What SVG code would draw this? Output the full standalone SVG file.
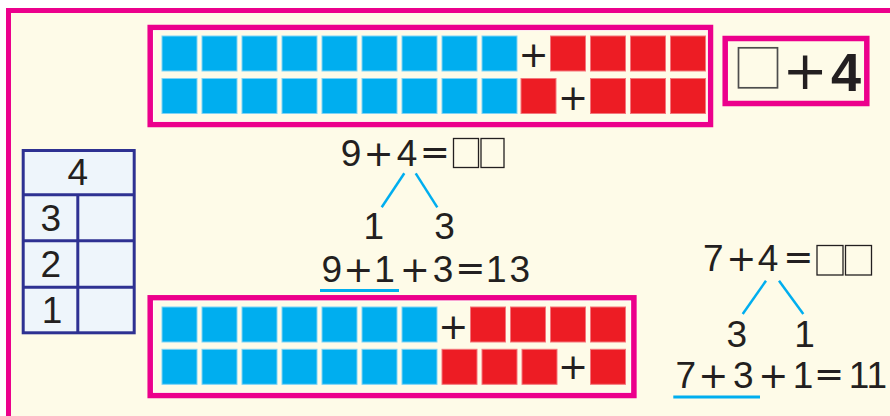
<svg xmlns="http://www.w3.org/2000/svg" width="890" height="416" viewBox="0 0 890 416">
<style>
.bg{fill:#FEFBE8}
.pink{fill:none;stroke:#EC008C;stroke-width:5.5}
.inner{fill:none;stroke:#FFFFFF;stroke-width:1;opacity:.7}
.b{fill:#00AEEF;stroke:#7FD3F5;stroke-width:1}
.r{fill:#ED1C24;stroke:#F3777C;stroke-width:1}
.d{font-family:"Liberation Sans",Arial,sans-serif;font-size:37px;fill:#231F20;text-anchor:middle}
.o{font-family:"DejaVu Sans",sans-serif;font-size:36px}
.tp{font-family:"DejaVu Sans",sans-serif;font-size:36px;fill:#231F20;text-anchor:middle}
.ans{fill:none;stroke:#231F20;stroke-width:1.3}
.tbl{fill:#EEF5FB;stroke:#2E3192;stroke-width:3}
.tl{stroke:#2E3192;stroke-width:3}
.cn{stroke:#00AEEF;stroke-width:2.5;fill:none}
.ul{stroke:#00AEEF;stroke-width:3}
</style>
<rect width="890" height="416" fill="#FFFFFF"/>
<g id="frame">
<rect x="8.5" y="10.5" width="884" height="420" class="bg" stroke="#EC008C" stroke-width="5"/>
</g>

<g id="box-top">
<rect x="150.2" y="27.5" width="560.3" height="97" class="pink"/>
<rect x="153.5" y="30.5" width="554" height="91" class="inner"/>
<rect x="162" y="36" width="35" height="35" class="b"/>
<rect x="202" y="36" width="35" height="35" class="b"/>
<rect x="242" y="36" width="35" height="35" class="b"/>
<rect x="282" y="36" width="35" height="35" class="b"/>
<rect x="322" y="36" width="35" height="35" class="b"/>
<rect x="362" y="36" width="35" height="35" class="b"/>
<rect x="402" y="36" width="35" height="35" class="b"/>
<rect x="442" y="36" width="35" height="35" class="b"/>
<rect x="482" y="36" width="35" height="35" class="b"/>
<text x="533.5" y="67" class="tp">+</text>
<rect x="550.5" y="36" width="35" height="35" class="r"/>
<rect x="590.5" y="36" width="35" height="35" class="r"/>
<rect x="630.5" y="36" width="35" height="35" class="r"/>
<rect x="670.5" y="36" width="35" height="35" class="r"/>
<rect x="162" y="78.5" width="35" height="35" class="b"/>
<rect x="202" y="78.5" width="35" height="35" class="b"/>
<rect x="242" y="78.5" width="35" height="35" class="b"/>
<rect x="282" y="78.5" width="35" height="35" class="b"/>
<rect x="322" y="78.5" width="35" height="35" class="b"/>
<rect x="362" y="78.5" width="35" height="35" class="b"/>
<rect x="402" y="78.5" width="35" height="35" class="b"/>
<rect x="442" y="78.5" width="35" height="35" class="b"/>
<rect x="482" y="78.5" width="35" height="35" class="b"/>
<rect x="521" y="78.5" width="35" height="35" class="r"/>
<text x="573" y="110" class="tp">+</text>
<rect x="590.5" y="78.5" width="35" height="35" class="r"/>
<rect x="630.5" y="78.5" width="35" height="35" class="r"/>
<rect x="670.5" y="78.5" width="35" height="35" class="r"/>
</g>

<g id="box-answer">
<rect x="725.2" y="38.5" width="141.6" height="65" class="pink"/>
<rect x="738.5" y="47.8" width="39" height="40" fill="none" stroke="#4D4D4D" stroke-width="1.7"/>
<text x="805" y="89" font-family="DejaVu Sans, sans-serif" font-size="54" fill="#231F20" text-anchor="middle">+</text>
<text x="846" y="91" font-family="Liberation Sans, Arial, sans-serif" font-weight="bold" font-size="54" fill="#231F20" text-anchor="middle">4</text>
</g>

<g id="table">
<rect x="23.2" y="150.5" width="111" height="182.3" class="tbl"/>
<line x1="23.2" y1="194.8" x2="134.2" y2="194.8" class="tl"/>
<line x1="23.2" y1="240.8" x2="134.2" y2="240.8" class="tl"/>
<line x1="23.2" y1="287.2" x2="134.2" y2="287.2" class="tl"/>
<line x1="77.8" y1="194.8" x2="77.8" y2="332.8" class="tl"/>
<text x="77.8" y="185" class="d" font-size="31">4</text>
<text x="50.8" y="230.7" class="d">3</text>
<text x="50.8" y="276.7" class="d">2</text>
<text x="52" y="322.7" class="d">1</text>
</g>

<g id="eq-left">
<text y="166" class="d"><tspan x="351">9</tspan><tspan x="378.7" class="o">+</tspan><tspan x="407">4</tspan><tspan x="434.8" y="164" class="o">=</tspan></text>
<rect x="453.5" y="138.5" width="25" height="29" class="ans"/>
<rect x="481" y="138.5" width="23" height="29" class="ans"/>
<text y="239.3" class="d"><tspan x="373.8">1</tspan><tspan x="444.5">3</tspan></text>
<text y="281.7" class="d"><tspan x="331.7">9</tspan><tspan x="358.3" class="o">+</tspan><tspan x="384.6">1</tspan><tspan x="414.8" class="o">+</tspan><tspan x="443">3</tspan><tspan x="470.3" y="279.7" class="o">=</tspan><tspan x="496.3" y="281.7">1</tspan><tspan x="519.7">3</tspan></text>
</g>

<g id="eq-right">
<text y="271" class="d"><tspan x="713.3">7</tspan><tspan x="741.3" class="o">+</tspan><tspan x="768">4</tspan><tspan x="798.3" y="269" class="o">=</tspan></text>
<rect x="817" y="245.5" width="26" height="29.5" class="ans"/>
<rect x="845.5" y="245.5" width="26" height="29.5" class="ans"/>
<text y="346.7" class="d"><tspan x="736.7">3</tspan><tspan x="804.6">1</tspan></text>
<text y="388.3" class="d"><tspan x="685.8">7</tspan><tspan x="713.3" class="o">+</tspan><tspan x="743.3">3</tspan><tspan x="773.3" class="o">+</tspan><tspan x="803">1</tspan><tspan x="829.2" y="386.3" class="o">=</tspan><tspan x="868" y="388.3">11</tspan></text>
</g>

<g id="box-bottom">
<rect x="150.2" y="297.8" width="483.7" height="97.7" class="pink"/>
<rect x="153.5" y="301" width="477" height="91.3" class="inner"/>
<rect x="162" y="307" width="35" height="35" class="b"/>
<rect x="202" y="307" width="35" height="35" class="b"/>
<rect x="242" y="307" width="35" height="35" class="b"/>
<rect x="282" y="307" width="35" height="35" class="b"/>
<rect x="322" y="307" width="35" height="35" class="b"/>
<rect x="362" y="307" width="35" height="35" class="b"/>
<rect x="402" y="307" width="35" height="35" class="b"/>
<text x="453.3" y="338.7" class="tp">+</text>
<rect x="470.5" y="307" width="35" height="35" class="r"/>
<rect x="510.5" y="307" width="35" height="35" class="r"/>
<rect x="550.5" y="307" width="35" height="35" class="r"/>
<rect x="590.5" y="307" width="35" height="35" class="r"/>
<rect x="162" y="349.3" width="35" height="35" class="b"/>
<rect x="202" y="349.3" width="35" height="35" class="b"/>
<rect x="242" y="349.3" width="35" height="35" class="b"/>
<rect x="282" y="349.3" width="35" height="35" class="b"/>
<rect x="322" y="349.3" width="35" height="35" class="b"/>
<rect x="362" y="349.3" width="35" height="35" class="b"/>
<rect x="402" y="349.3" width="35" height="35" class="b"/>
<rect x="442" y="349.3" width="35" height="35" class="r"/>
<rect x="482" y="349.3" width="35" height="35" class="r"/>
<rect x="522" y="349.3" width="35" height="35" class="r"/>
<text x="573" y="378.7" class="tp">+</text>
<rect x="590.5" y="349.3" width="35" height="35" class="r"/>
</g>

<g id="connectors">
<line x1="404.3" y1="173.3" x2="381.7" y2="207.3" class="cn"/>
<line x1="415.7" y1="173.3" x2="437.3" y2="207.3" class="cn"/>
<line x1="320" y1="290.5" x2="399" y2="290.5" class="ul"/>
<line x1="766" y1="280.7" x2="742.7" y2="314" class="cn"/>
<line x1="779" y1="280.7" x2="803.3" y2="314" class="cn"/>
<line x1="673.3" y1="397" x2="760" y2="397" class="ul"/>
</g>
</svg>
